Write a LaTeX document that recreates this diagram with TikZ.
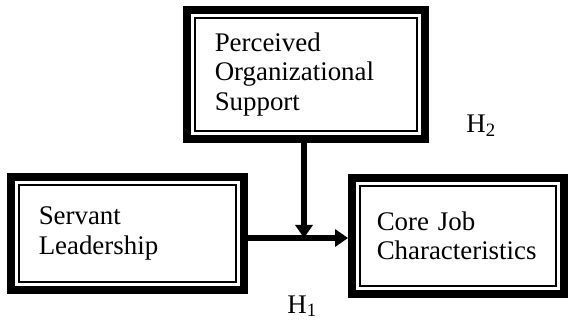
\documentclass[tikz,border=0pt]{standalone}
\usepackage{fontspec}
\setmainfont{Liberation Serif}
\usetikzlibrary{positioning,fit,calc,arrows.meta}
\tikzset{cbox/.style={draw, line width=1.3pt, rectangle, align=left, inner xsep=0.4cm, inner ysep=0pt, outer sep=0pt, font=\fontsize{15.3}{16.8}\selectfont}}
\tikzset{cframe/.style={draw, line width=4.5pt, inner sep=0.155cm}}
\tikzset{harr/.style={draw, line width=3.4pt, -{Triangle[width=0.34cm, length=0.26cm]}}}
\tikzset{hlab/.style={inner sep=0pt, anchor=base west, font=\fontsize{15.3}{16.8}\selectfont}}

\begin{document}
\begin{tikzpicture}
	\useasboundingbox (0,0) rectangle (11.38,6.44);

	\node[cbox, text width=3.65cm, minimum height=2.27cm] (pos-in) at (6.12,4.95) {Perceived\\Organizational\\Support};
	\node[cframe, fit=(pos-in)] (pos) {};
	\node[cbox, text width=3.55cm, minimum height=1.95cm] (sl-in) at (2.55,1.77) {Servant\\Leadership};
	\node[cframe, fit=(sl-in)] (sl) {};
	\node[cbox, inner xsep=0.34cm, text width=3.25cm, minimum height=2.01cm] (cjc-in) at (9.16,1.72) {Core Job\\Characteristics};
	\node[cframe, fit=(cjc-in)] (cjc) {};

	\coordinate (join) at (6.08,1.68);
	\draw[harr] (sl.east |- join) -- (cjc.west |- join);
	\draw[harr] (pos.south -| join) -- (join);

	\node[hlab] (h2) at (9.32,3.78) {H\textsubscript{2}};
	\node[hlab] (h1) at (5.74,0.18) {H\textsubscript{1}};
\end{tikzpicture}
\end{document}
